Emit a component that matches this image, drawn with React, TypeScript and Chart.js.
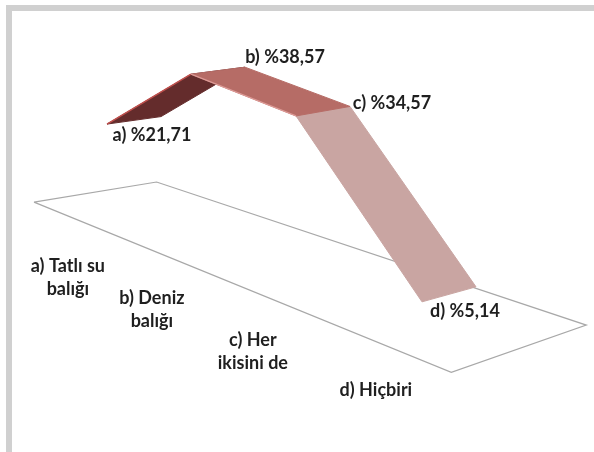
import React, { useEffect, useRef } from "react";
import { Chart, registerables } from "chart.js";

Chart.register(...registerables);

const categories: string[][] = [
  ["a) Tatlı su", "balığı"],
  ["b) Deniz", "balığı"],
  ["c) Her", "ikisini de"],
  ["d) Hiçbiri"],
];
const seriesValues = [21.71, 38.57, 34.57, 5.14];

// Pixel offsets of the value captions from the ribbon's far edge.
const captionOffsets = [
  [-7, 11],
  [40, -10],
  [42, -3],
  [-11, 24],
];
// Pixel offsets of the category captions from their spot on the floor.
const categoryOffsets = [
  [3, 44],
  [3, 36],
  [-1, 36],
  [-4, 41],
];

// Oblique 3D projection: c = category index, s = depth across the ribbon, v = value.
function project(c: number, s: number, v: number) {
  const x = 107 + 73.5 * c + 10.5 * c * c + 54 * s;
  const depthRise = -7.5 + 2 * c - 1.5 * c * c;
  const floorY = 216 + 40.5 * c + s * depthRise;
  const lift = v === 0 ? 0 : (3.96 + 0.65 * c - 0.06 * c * c) * (v + 1.5);
  return { x, y: floorY - lift };
}

function ribbon(i: number) {
  const a = seriesValues[i];
  const b = seriesValues[i + 1];
  return [project(i, 0, a), project(i + 1, 0, b), project(i + 1, 1, b), project(i, 1, a), project(i, 0, a)];
}

function polygon(data: { x: number; y: number }[], fillColor: string, edge: string, edgeWidth = 1) {
  return {
    data,
    showLine: true,
    fill: "shape",
    backgroundColor: fillColor,
    borderColor: edge,
    borderWidth: edgeWidth,
    pointRadius: 0,
    tension: 0,
    clip: false,
  };
}

function edgeLine(i: number, color: string, width: number) {
  return {
    data: [project(i, 0, seriesValues[i]), project(i + 1, 0, seriesValues[i + 1])],
    showLine: true,
    fill: false,
    borderColor: color,
    borderWidth: width,
    pointRadius: 0,
    tension: 0,
    clip: false,
  };
}

const floorCorners = [
  project(-0.5, -0.72, 0),
  project(-0.5, 1.55, 0),
  project(3.5, 1.73, 0),
  project(3.5, -0.77, 0),
  project(-0.5, -0.72, 0),
];

const textPlugin = {
  id: "ribbonText",
  afterDatasetsDraw(chart: any) {
    const { ctx, scales } = chart;
    const px = (p: { x: number; y: number }) => ({ x: scales.x.getPixelForValue(p.x), y: scales.y.getPixelForValue(p.y) });
    ctx.save();
    ctx.font = "bold 18px Lato";
    ctx.fillStyle = "#1f1f1f";
    ctx.textAlign = "center";
    ctx.textBaseline = "middle";
    seriesValues.forEach((v, i) => {
      const p = px(project(i, i === 0 ? 0 : 1, v));
      const [dx, dy] = captionOffsets[i];
      const letter = "abcd"[i];
      const ox = i === 0 ? 52 + dx : dx;
      ctx.fillText(`${letter}) %${v.toFixed(2).replace(".", ",")}`, p.x + ox, p.y + dy);
    });
    categories.forEach((lines, i) => {
      const p = px(project(i, -0.78, 0));
      const [dx, dy] = categoryOffsets[i];
      lines.forEach((line, j) => {
        ctx.fillText(line, p.x + dx, p.y + dy + j * 23);
      });
    });
    ctx.restore();
  },
};

export default function App() {
  const ref = useRef<HTMLCanvasElement>(null);
  useEffect(() => {
    const layers = [
      polygon(floorCorners, "#ffffff", "#a8a8a8", 1.2),
      polygon(ribbon(0), "#642c2c", "#642c2c"),
      edgeLine(0, "#c0504d", 1.5),
      polygon(ribbon(2), "#c9a5a2", "#c9a5a2"),
      polygon(ribbon(1), "#b66c66", "#b66c66"),
      edgeLine(1, "#dc9a96", 1.2),
    ];
    const chart = new Chart(ref.current!, {
      type: "scatter",
      data: { datasets: layers.reverse() as any },
      options: {
        animation: false,
        responsive: false,
        layout: { padding: 0 },
        plugins: { legend: { display: false }, tooltip: { enabled: false } },
        scales: {
          x: { type: "linear", min: 0, max: 594, display: false },
          y: { type: "linear", min: 0, max: 452, reverse: true, display: false },
        },
      },
      plugins: [textPlugin],
    });
    return () => chart.destroy();
  }, []);
  return (
    <div style={{ position: "fixed", left: 0, top: 0, width: 594, height: 452, background: "#fff", overflow: "hidden" }}>
      <canvas ref={ref} width={594} height={452} style={{ position: "absolute", left: 0, top: 0 }} />
      <div
        style={{
          position: "absolute",
          left: 6,
          top: 5,
          width: 588,
          height: 447,
          boxSizing: "border-box",
          borderTop: "6px solid #d0d0d0",
          borderLeft: "6px solid #d0d0d0",
        }}
      />
    </div>
  );
}
